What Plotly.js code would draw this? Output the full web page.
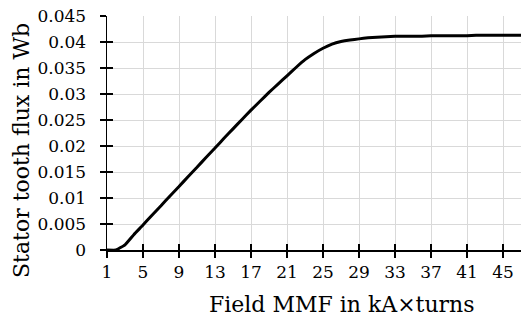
<!DOCTYPE html>
<html>
<head>
<meta charset="utf-8">
<script src="https://cdn.plot.ly/plotly-3.0.1.min.js"></script>
<style>html,body{margin:0;padding:0;background:#fff;}#chart{width:523px;height:325px;}</style>
</head>
<body>
<div id="chart"></div>
<script>
var mmf = [1,2,3,4,5,6,7,8,9,10,11,12,13,14,15,16,17,18,19,20,21,22,23,24,25,26,27,28,29,30,31,32,33,34,35,36,37,38,39,40,41,42,43,44,45,46,47];
var flux = [0,0,0.0010,0.0030,0.0048,0.0067,0.0085,0.0104,0.0122,0.0141,0.0159,0.0178,0.0196,0.0215,0.0233,0.0251,0.0269,0.0286,0.0303,0.0319,0.0335,0.0351,0.0366,0.0378,0.0388,0.0396,0.0401,0.0404,0.0406,0.0408,0.0409,0.0410,0.0411,0.0411,0.0411,0.0411,0.0412,0.0412,0.0412,0.0412,0.0412,0.0413,0.0413,0.0413,0.0413,0.0413,0.0413];
var xTicks = [1,5,9,13,17,21,25,29,33,37,41,45];
var yTicks = [0,0.005,0.01,0.015,0.02,0.025,0.03,0.035,0.04,0.045];
var yTickText = ['0','0.005','0.01','0.015','0.02','0.025','0.03','0.035','0.04','0.045'];
var xTitle = 'Field MMF in kA×turns';
var yTitle = 'Stator tooth flux in Wb';

var F = 'DejaVu Serif';
var data = [
  {x: mmf, y: flux, type: 'scatter', mode: 'lines',
   line: {color: '#000', width: 3, shape: 'spline', smoothing: 0.3},
   hoverinfo: 'skip', showlegend: false},
  {x: mmf, y: flux, type: 'scatter', mode: 'lines', xaxis: 'x2', yaxis: 'y2',
   line: {color: 'rgba(0,0,0,0)', width: 0}, hoverinfo: 'skip', showlegend: false}
];
var layout = {
  width: 523, height: 325,
  margin: {l: 107, r: 2, t: 16, b: 75, pad: 0},
  paper_bgcolor: '#fff', plot_bgcolor: '#fff',
  font: {family: F, color: '#000', size: 17},
  xaxis: {range: [1, 47], tickvals: xTicks, ticktext: xTicks.map(String),
    showgrid: true, gridcolor: '#d9d9d9', gridwidth: 1,
    showline: true, linecolor: '#000', linewidth: 1.5,
    ticks: 'outside', ticklen: 6, tickwidth: 1.5, tickcolor: '#000',
    tickfont: {family: F, size: 17}, zeroline: false, fixedrange: true},
  yaxis: {range: [0, 0.045], tickvals: yTicks, ticktext: yTickText,
    showgrid: true, gridcolor: '#d9d9d9', gridwidth: 1,
    showline: true, linecolor: '#000', linewidth: 1.5,
    ticks: 'outside', ticklen: 6, tickwidth: 1.5, tickcolor: '#000',
    ticklabelstandoff: 10,
    tickfont: {family: F, size: 17}, zeroline: false, fixedrange: true},
  xaxis2: {range: [1, 47], overlaying: 'x', anchor: 'y2', tickvals: xTicks,
    showticklabels: false, showgrid: false, showline: false, zeroline: false,
    ticks: 'inside', ticklen: 6, tickwidth: 1.5, tickcolor: '#000', side: 'bottom'},
  yaxis2: {range: [0, 0.045], overlaying: 'y', anchor: 'x2', tickvals: yTicks,
    showticklabels: false, showgrid: false, showline: false, zeroline: false,
    ticks: 'inside', ticklen: 6, tickwidth: 1.5, tickcolor: '#000', side: 'left'},
  annotations: [
    {text: xTitle, xref: 'paper', yref: 'paper', x: 0.568, y: -0.235,
     xanchor: 'center', yanchor: 'middle', showarrow: false, font: {family: F, size: 22, color: '#000'}},
    {text: yTitle, xref: 'paper', yref: 'paper', x: -0.208, y: 0.427, textangle: -90,
     xanchor: 'center', yanchor: 'middle', showarrow: false, font: {family: F, size: 22, color: '#000'}}
  ]
};
Plotly.newPlot('chart', data, layout, {staticPlot: true, displayModeBar: false});
</script>
</body>
</html>
